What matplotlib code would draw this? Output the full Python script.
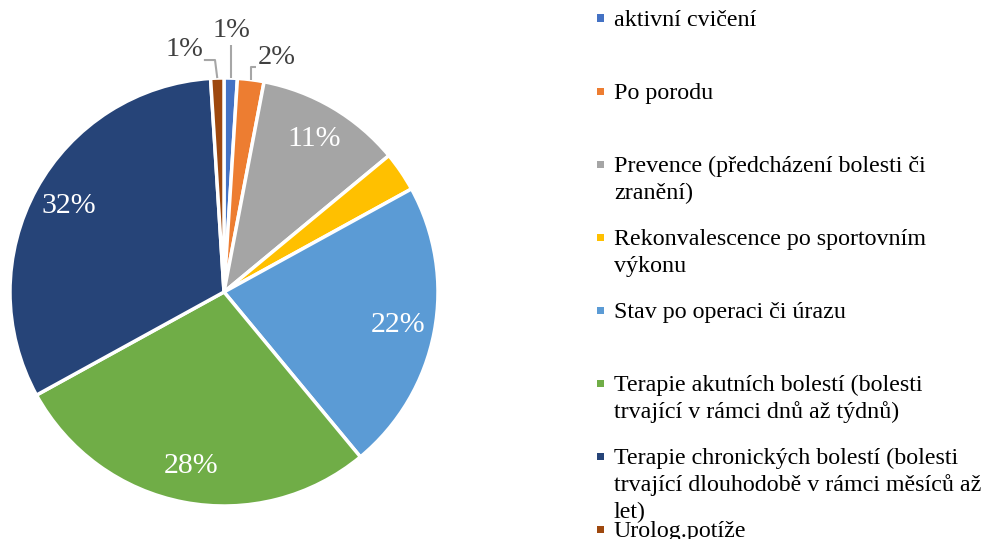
import matplotlib
matplotlib.use("Agg")
import numpy as np
import matplotlib.pyplot as plt
from matplotlib.patches import Rectangle

# data
categories = [
    "aktivní cvičení",
    "Po porodu",
    "Prevence (předcházení bolesti či\nzranění)",
    "Rekonvalescence po sportovním\nvýkonu",
    "Stav po operaci či úrazu",
    "Terapie akutních bolestí (bolesti\ntrvající v rámci dnů až týdnů)",
    "Terapie chronických bolestí (bolesti\ntrvající dlouhodobě v rámci měsíců až\nlet)",
    "Urolog.potíže",
]
values = [1, 2, 11, 3, 22, 28, 32, 1]
colors = ["#4472C4", "#ED7D31", "#A5A5A5", "#FFC000",
          "#5B9BD5", "#70AD47", "#264478", "#9E480E"]

W, H = 985, 539
plt.rcParams['font.family'] = ['Liberation Serif', 'DejaVu Serif']

fig = plt.figure(figsize=(W / 100, H / 100), dpi=100)

# pie centre (224, 292) px, radius 214 px
cx, cy, r = 224, H - 292, 214
lim = 1.05
ax = fig.add_axes([(cx - lim * r) / W, (cy - lim * r) / H, 2 * lim * r / W, 2 * lim * r / H])
wedges, _ = ax.pie(values, colors=colors, startangle=90, counterclock=False,
                   wedgeprops=dict(edgecolor="white", linewidth=2.5))
ax.set_xlim(-lim, lim)
ax.set_ylim(-lim, lim)
ax.set_aspect("equal")
ax.axis("off")

total = float(sum(values))
pct_labels = ["%d%%" % round(v / total * 100) for v in values]

# labels inside the larger slices
for i, w in enumerate(wedges):
    if values[i] < 5:
        continue
    ang = np.deg2rad((w.theta1 + w.theta2) / 2)
    ax.text(0.83 * np.cos(ang), 0.83 * np.sin(ang), pct_labels[i], color="white",
            fontsize=21.5, ha="center", va="center")

# small slices: labels outside with leader lines
# (label pos, elbow (x or None, y), end x or None, ha)
lead = "#A6A6A6"
outside = {0: ((0.037, 1.224), (None, 1.154), None, "center"),
           1: ((0.160, 1.098), (None, 1.051), 0.150, "left"),
           7: ((-0.098, 1.131), (-0.042, 1.084), -0.094, "right")}
for i, (pos, elbow, ex, ha) in outside.items():
    w = wedges[i]
    ang = np.deg2rad((w.theta1 + w.theta2) / 2)
    px, py = np.cos(ang), np.sin(ang)
    xs = [px, px if elbow[0] is None else elbow[0]]
    ys = [py, elbow[1]]
    if ex is not None:
        xs.append(ex)
        ys.append(elbow[1])
    ax.plot(xs, ys, color=lead, lw=1.5, clip_on=False, solid_capstyle="butt")
    ax.text(pos[0], pos[1], pct_labels[i], color="#404040", fontsize=20.5,
            ha=ha, va="center", clip_on=False)

# legend drawn by hand
leg_y0, leg_step, line_h = 18, 73.0, 27
for i, (lab, col) in enumerate(zip(categories, colors)):
    y = leg_y0 + i * leg_step
    fig.add_artist(Rectangle((597 / W, (H - y - 3.5) / H), 7 / W, 7 / H,
                             transform=fig.transFigure, color=col, lw=0))
    for j, line in enumerate(lab.split("\n")):
        fig.text(614 / W, (H - y - j * line_h) / H, line, fontsize=17.3,
                 ha="left", va="center_baseline", color="black")

fig.savefig("out.png", dpi=100)
